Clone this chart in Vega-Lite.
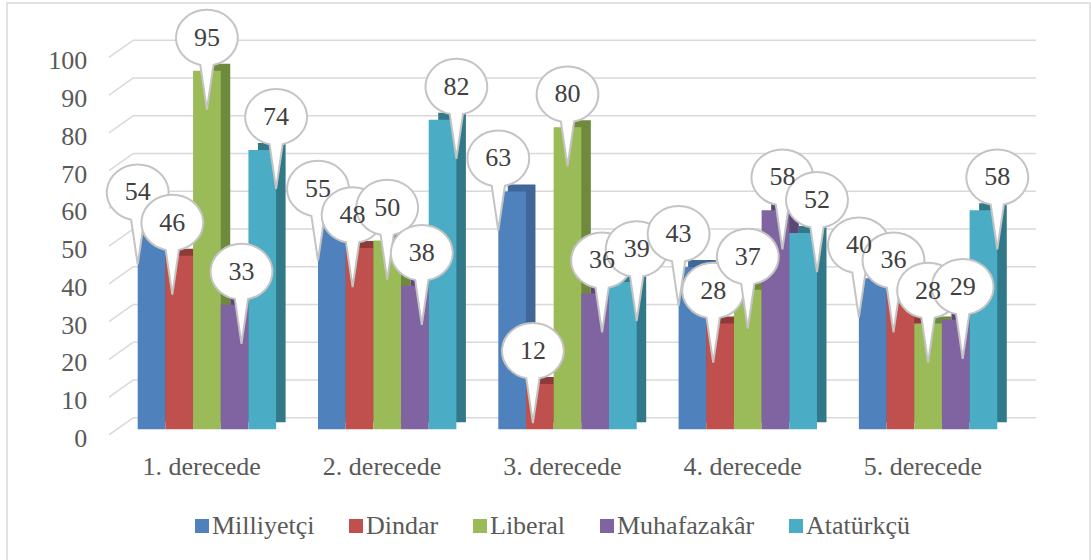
{
  "$schema": "https://vega.github.io/schema/vega-lite/v6.json",
  "width": 1083,
  "height": 557,
  "autosize": {"type": "none"},
  "padding": {"left": 7, "top": 3, "right": 1, "bottom": 0},
  "background": "white",
  "config": {
    "view": {"stroke": "#D9D9D9", "strokeWidth": 1.5, "strokeDash": [1640, 1083, 557, 1]},
    "font": "Liberation Serif, DejaVu Serif, serif",
    "text": {"font": "Liberation Serif, DejaVu Serif, serif"}
  },
  "datasets": {
    "main": [
      {"group": "1. derecede", "series": "Milliyetçi", "value": 54},
      {"group": "1. derecede", "series": "Dindar", "value": 46},
      {"group": "1. derecede", "series": "Liberal", "value": 95},
      {"group": "1. derecede", "series": "Muhafazakâr", "value": 33},
      {"group": "1. derecede", "series": "Atatürkçü", "value": 74},
      {"group": "2. derecede", "series": "Milliyetçi", "value": 55},
      {"group": "2. derecede", "series": "Dindar", "value": 48},
      {"group": "2. derecede", "series": "Liberal", "value": 50},
      {"group": "2. derecede", "series": "Muhafazakâr", "value": 38},
      {"group": "2. derecede", "series": "Atatürkçü", "value": 82},
      {"group": "3. derecede", "series": "Milliyetçi", "value": 63},
      {"group": "3. derecede", "series": "Dindar", "value": 12},
      {"group": "3. derecede", "series": "Liberal", "value": 80},
      {"group": "3. derecede", "series": "Muhafazakâr", "value": 36},
      {"group": "3. derecede", "series": "Atatürkçü", "value": 39},
      {"group": "4. derecede", "series": "Milliyetçi", "value": 43},
      {"group": "4. derecede", "series": "Dindar", "value": 28},
      {"group": "4. derecede", "series": "Liberal", "value": 37},
      {"group": "4. derecede", "series": "Muhafazakâr", "value": 58},
      {"group": "4. derecede", "series": "Atatürkçü", "value": 52},
      {"group": "5. derecede", "series": "Milliyetçi", "value": 40},
      {"group": "5. derecede", "series": "Dindar", "value": 36},
      {"group": "5. derecede", "series": "Liberal", "value": 28},
      {"group": "5. derecede", "series": "Muhafazakâr", "value": 29},
      {"group": "5. derecede", "series": "Atatürkçü", "value": 58}
    ],
    "grid": [
      {"v": 0}, {"v": 10}, {"v": 20}, {"v": 30}, {"v": 40}, {"v": 50},
      {"v": 60}, {"v": 70}, {"v": 80}, {"v": 90}, {"v": 100}
    ]
  },
  "resolve": {"scale": {"color": "independent", "xOffset": "independent"}},
  "layer": [
    {
      "data": {"name": "grid"},
      "mark": {"type": "rule", "color": "#D9D9D9", "strokeWidth": 1.5, "xOffset": -28.7, "x2Offset": -4.7, "yOffset": 5.6, "y2Offset": -11.5},
      "encoding": {
        "x": {"datum": "1. derecede", "type": "nominal", "bandPosition": 0},
        "x2": {"datum": "1. derecede", "bandPosition": 0},
        "y": {"field": "v", "type": "quantitative"},
        "y2": {"field": "v"}
      }
    },
    {
      "data": {"name": "grid"},
      "mark": {"type": "rule", "color": "#D9D9D9", "strokeWidth": 1.5, "xOffset": -4.7, "x2Offset": 38.7, "yOffset": -11.5},
      "encoding": {
        "x": {"datum": "1. derecede", "type": "nominal", "bandPosition": 0},
        "x2": {"datum": "5. derecede", "bandPosition": 1},
        "y": {"field": "v", "type": "quantitative"}
      }
    },
    {
      "data": {"name": "main"},
      "mark": {"type": "bar", "yOffset": -7, "y2Offset": -7},
      "encoding": {
        "x": {
          "field": "group", "type": "nominal", "title": null,
          "scale": {
            "domain": ["1. derecede", "2. derecede", "3. derecede", "4. derecede", "5. derecede"],
            "paddingInner": 0.2324, "paddingOuter": 0.6196, "align": 0.585, "round": false
          },
          "axis": {
            "title": null, "domain": false, "ticks": false, "tickSize": 0, "grid": false,
            "labelPadding": 0, "offset": -85.7, "labelBaseline": "alphabetic", "labelOffset": 54,
            "labelAngle": 0, "labelFontSize": 26, "labelFont": "Liberation Serif, DejaVu Serif, serif", "labelColor": "#595959"
          }
        },
        "xOffset": {
          "field": "series", "type": "nominal",
          "scale": {"domain": ["Milliyetçi", "Dindar", "Liberal", "Muhafazakâr", "Atatürkçü"], "range": [9.5, 147.9], "paddingInner": 0, "paddingOuter": 0}
        },
        "y": {
          "field": "value", "type": "quantitative", "title": null,
          "scale": {"domain": [-34.62, 112.93], "zero": false, "nice": false},
          "axis": {
            "title": null, "values": [0, 10, 20, 30, 40, 50, 60, 70, 80, 90, 100],
            "domain": false, "ticks": false, "tickSize": 0, "grid": false,
            "labelPadding": 0, "offset": -79.7, "labelOffset": 9,
            "labelFontSize": 26, "labelFont": "Liberation Serif, DejaVu Serif, serif", "labelColor": "#595959"
          }
        },
        "y2": {"datum": 0},
        "color": {
          "field": "series", "type": "nominal", "legend": null,
          "scale": {
            "domain": ["Milliyetçi", "Dindar", "Liberal", "Muhafazakâr", "Atatürkçü"],
            "range": ["#3F6797", "#8E3A38", "#6F8A3C", "#5C4776", "#317888"]
          }
        }
      }
    },
    {
      "data": {"name": "main"},
      "mark": {"type": "bar"},
      "encoding": {
        "x": {"field": "group", "type": "nominal"},
        "xOffset": {
          "field": "series", "type": "nominal",
          "scale": {"domain": ["Milliyetçi", "Dindar", "Liberal", "Muhafazakâr", "Atatürkçü"], "paddingInner": 0, "paddingOuter": 0}
        },
        "y": {"field": "value", "type": "quantitative"},
        "y2": {"datum": 0},
        "color": {
          "field": "series", "type": "nominal",
          "scale": {
            "domain": ["Milliyetçi", "Dindar", "Liberal", "Muhafazakâr", "Atatürkçü"],
            "range": ["#4F81BD", "#C0504D", "#9BBB59", "#8064A2", "#4BACC6"]
          },
          "legend": {
            "title": null, "orient": "none", "direction": "horizontal", "legendX": 182, "legendY": 510,
            "padding": 0, "symbolType": "square", "symbolSize": 196, "symbolStrokeWidth": 0,
            "columnPadding": 28, "labelOffset": -3, "labelFontSize": 26, "labelFont": "Liberation Serif, DejaVu Serif, serif",
            "labelColor": "#595959", "labelLimit": 400
          }
        }
      }
    },
    {
      "data": {"name": "main"},
      "mark": {
        "type": "point",
        "shape": "M 0.22 0.908 L 0 2.4 L -0.22 0.908 A 1.03 0.93 0 1 1 0.22 0.908 Z",
        "size": 3600, "filled": true, "fill": "white", "stroke": "#C4C4C4", "strokeWidth": 2,
        "opacity": 1, "yOffset": -33
      },
      "encoding": {
        "x": {"field": "group", "type": "nominal"},
        "xOffset": {
          "field": "series", "type": "nominal",
          "scale": {"domain": ["Milliyetçi", "Dindar", "Liberal", "Muhafazakâr", "Atatürkçü"], "paddingInner": 0, "paddingOuter": 0}
        },
        "y": {"field": "value", "type": "quantitative"}
      }
    },
    {
      "data": {"name": "main"},
      "mark": {"type": "text", "fontSize": 26, "font": "Liberation Serif, DejaVu Serif, serif", "color": "#404040", "baseline": "middle", "yOffset": -33},
      "encoding": {
        "x": {"field": "group", "type": "nominal"},
        "xOffset": {
          "field": "series", "type": "nominal",
          "scale": {"domain": ["Milliyetçi", "Dindar", "Liberal", "Muhafazakâr", "Atatürkçü"], "paddingInner": 0, "paddingOuter": 0}
        },
        "y": {"field": "value", "type": "quantitative"},
        "text": {"field": "value", "type": "quantitative"}
      }
    }
  ]
}
